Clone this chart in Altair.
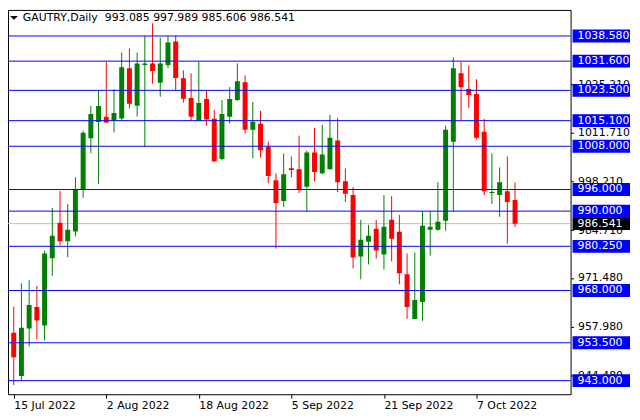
import json
import altair as alt
import pandas as pd

# ---- data ----
date_ticks = [0, 12, 24, 36, 48, 60]
date_labels = ["15 Jul 2022", "2 Aug 2022", "18 Aug 2022", "5 Sep 2022", "21 Sep 2022", "7 Oct 2022"]

opens = [956.28, 944.28, 957.47, 963.42, 958.29, 976.97, 986.76, 981.64, 984.38, 996.01,
         1010.20, 1014.69, 1016.15, 1015.05, 1015.69, 1029.61, 1019.26, 1030.52, 1030.98, 1025.58,
         1030.52, 1037.03, 1026.86, 1021.37, 1015.05, 1021.10, 1015.60, 1004.43, 1016.15, 1020.82,
         1025.76, 1012.58, 1014.23, 1007.82, 998.57, 992.81, 1001.87, 1001.59, 996.74, 1006.26,
         1000.49, 1001.59, 1009.56, 998.30, 994.45, 977.42, 981.55, 985.11, 977.97, 987.59,
         984.29, 972.48, 960.12, 964.79, 984.84, 984.84, 987.31, 1009.28, 1028.24, 1023.84,
         1022.47, 1012.03, 995.00, 994.45, 995.55, 993.085]
highs = [963.51, 970.01, 970.83, 969.28, 979.07, 990.88, 995.55, 991.98, 999.40, 1012.31,
         1019.17, 1023.47, 1031.44, 1023.84, 1034.00, 1035.10, 1034.00, 1038.58, 1042.06, 1038.12,
         1038.58, 1038.58, 1029.06, 1028.24, 1031.44, 1023.47, 1018.08, 1020.82, 1024.39, 1030.98,
         1027.69, 1020.27, 1017.80, 1009.28, 1000.49, 1005.99, 1005.17, 1010.93, 1006.81, 1013.13,
         1013.95, 1016.70, 1015.87, 1001.87, 996.65, 987.59, 986.22, 987.59, 994.45, 994.18,
         988.96, 978.25, 978.52, 989.97, 989.97, 998.02, 1013.68, 1032.63, 1031.44, 1030.43,
         1026.59, 1015.60, 1005.99, 1002.14, 1005.17, 997.989]
lows = [941.81, 943.19, 952.52, 954.45, 954.17, 972.02, 980.54, 977.24, 983.01, 993.72,
        1006.08, 997.57, 1014.50, 1011.85, 1015.05, 1018.44, 1016.24, 1007.82, 1025.31, 1021.73,
        1029.70, 1023.57, 1020.09, 1015.05, 1015.05, 1013.68, 1003.79, 1004.07, 1014.32, 1020.55,
        1011.48, 1004.62, 1004.89, 997.75, 979.62, 991.16, 999.40, 995.00, 989.97, 998.30,
        1000.22, 1001.59, 995.28, 992.53, 974.13, 971.11, 975.23, 976.87, 973.85, 976.05,
        969.73, 960.12, 960.12, 959.57, 977.70, 984.57, 984.57, 989.97, 1015.33, 1018.62,
        1009.83, 994.45, 991.98, 988.41, 980.99, 985.606]
closes = [949.51, 957.65, 963.97, 959.66, 978.25, 983.19, 981.64, 984.84, 996.01, 1011.76,
          1016.97, 1019.17, 1014.60, 1017.25, 1029.88, 1019.81, 1030.98, 1030.98, 1028.87, 1030.98,
          1036.75, 1026.95, 1021.19, 1016.15, 1020.00, 1015.42, 1003.79, 1016.97, 1021.10, 1026.04,
          1012.58, 1014.78, 1006.91, 999.76, 992.26, 1000.22, 1001.41, 996.10, 1006.26, 1000.86,
          1005.71, 1010.38, 998.02, 994.82, 977.15, 982.10, 983.19, 979.07, 985.66, 982.37,
          972.75, 963.42, 965.34, 985.94, 985.66, 987.04, 1012.58, 1029.61, 1024.39, 1022.19,
          1010.38, 995.55, 995.28, 998.02, 992.53, 986.541]

levels = [1038.58, 1031.6, 1023.5, 1015.1, 1008.0, 996.0, 990.0, 980.25, 968.0, 953.5, 943.0]
current_price = 986.541
price_ticks = [944.48, 957.98, 971.48, 984.71, 998.21, 1011.71, 1025.21]
title_text = "GAUTRY,Daily\u00a0\u00a0993.085 997.989 985.606 986.541"

# ---- tables ----
df = pd.DataFrame({"i": list(range(len(opens))), "open": opens, "high": highs,
                   "low": lows, "close": closes})
df["dir"] = ["up" if c >= o else "down" for o, c in zip(opens, closes)]
lev_df = pd.DataFrame({"v": levels, "lab": [f"{v:.3f}" for v in levels]})
cur_df = pd.DataFrame({"v": [current_price], "lab": [f"{current_price:.3f}"]})
title_df = pd.DataFrame({"t": [title_text]})

FONT = "DejaVu Sans"
W, H = 568, 388
xs = alt.Scale(domain=[-0.1, 71.56], nice=False, zero=False)
ys = alt.Scale(domain=[939.23, 1045.80], nice=False, zero=False)
col = alt.Color("dir:N", scale=alt.Scale(domain=["up", "down"], range=["#008000", "#ff0000"]),
                legend=None)

label_expr = f"{json.dumps(date_labels)}[indexof({json.dumps(date_ticks)}, datum.value)]"

x_axis = alt.Axis(values=date_ticks, labelExpr=label_expr, labelAlign="left",
                  labelBaseline="top", tickSize=4, labelPadding=1, labelOverlap=False,
                  labelBound=False, labelFlush=False, grid=False, domain=False, title=None)
y_axis = alt.Axis(orient="right", values=price_ticks, format=".3f", tickSize=3,
                  labelPadding=4, labelOverlap=False, grid=False, domain=False, title=None)


def X(field):
    return alt.X(field, scale=xs, axis=x_axis)


def Y(field):
    return alt.Y(field, scale=ys, axis=y_axis)


bid = alt.Chart(cur_df).mark_rule(color="#c0c0c0", strokeWidth=1).encode(y=Y("v:Q"))

wick = alt.Chart(df).mark_rule(strokeWidth=1, clip=True).encode(
    x=X("i:Q"), y=Y("low:Q"), y2="high:Q", color=col)

body = alt.Chart(df).mark_bar(size=5, clip=True).encode(
    x=X("i:Q"), y=Y("open:Q"), y2="close:Q", color=col)

lines = alt.Chart(lev_df).mark_rule(color="#0000ff", strokeWidth=1).encode(y=Y("v:Q"))

boxes = alt.Chart(lev_df).mark_rule(color="#0000ff", strokeWidth=13).encode(
    x=alt.value(570), x2=alt.value(628), y=Y("v:Q"))
box_txt = alt.Chart(lev_df).mark_text(align="left", baseline="middle", color="white",
                                       font=FONT, fontSize=11).encode(
    x=alt.value(575), y=Y("v:Q"), text="lab:N")

cur_box = alt.Chart(cur_df).mark_rule(color="#000000", strokeWidth=13).encode(
    x=alt.value(570), x2=alt.value(628), y=Y("v:Q"))
cur_txt = alt.Chart(cur_df).mark_text(align="left", baseline="middle", color="white",
                                       font=FONT, fontSize=11).encode(
    x=alt.value(575), y=Y("v:Q"), text="lab:N")

tri = alt.Chart(title_df).mark_point(
    shape="M-1,-0.5L1,-0.5L0,0.5Z", filled=True, color="black", opacity=1, size=64,
    strokeWidth=0).encode(x=alt.value(6), y=alt.value(8))
title = alt.Chart(title_df).mark_text(align="left", baseline="middle", color="black",
                                       font=FONT, fontSize=11).encode(
    x=alt.value(15), y=alt.value(8), text="t:N")

chart = alt.layer(bid, wick, body, lines, boxes, box_txt, cur_box, cur_txt, tri, title).properties(
    width=W, height=H,
    autosize=alt.AutoSizeParams(type="none"),
    padding={"left": 0, "top": 0, "right": 62, "bottom": 18},
    background="white",
).configure_view(stroke="black", strokeWidth=1).configure_axis(
    labelFont=FONT, labelFontSize=11, labelColor="black", tickColor="black", tickWidth=1
)

chart.save("out.html", embed_options={"renderer": "svg", "actions": False})
